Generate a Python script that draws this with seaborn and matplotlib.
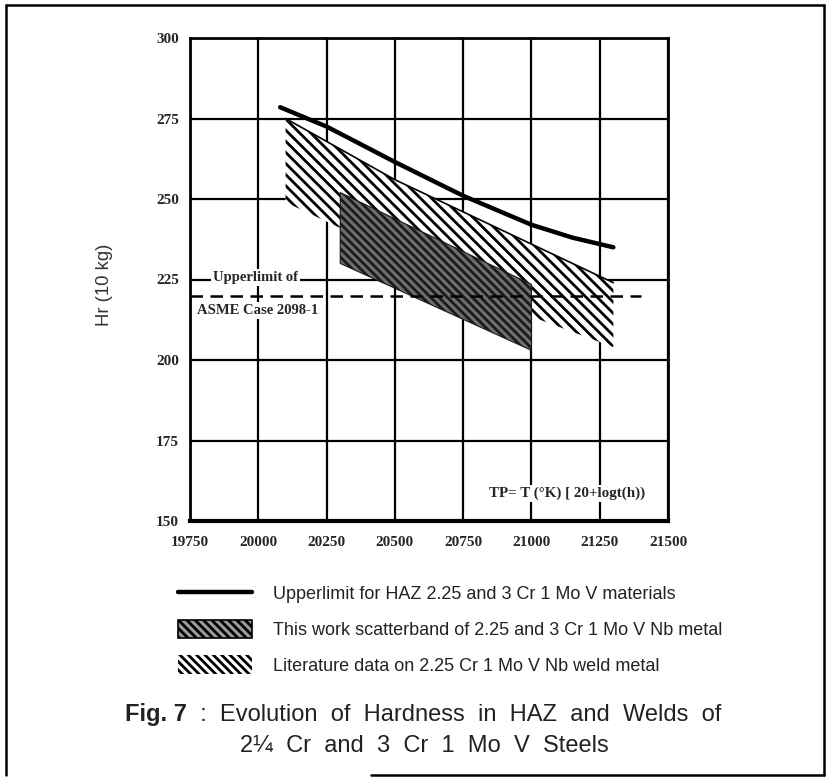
import matplotlib.pyplot as plt
import matplotlib.patches as mpatches
from matplotlib.lines import Line2D
import pandas as pd
import seaborn as sns

# -----------------------------
# data
# -----------------------------
# upper limit curve for HAZ 2.25 and 3 Cr 1 Mo V
haz_tp = [20080, 20250, 20500, 20750, 21000, 21150, 21300]
haz_hr = [278.5, 272.5, 261.5, 251.0, 242.0, 238.0, 235.0]

# literature data scatterband (outline)
lit_tp = [20100, 20500, 21000, 21300, 21300, 21000, 20300, 20100]
lit_hr = [275.0, 256.0, 236.0, 224.0, 204.0, 213.5, 241.0, 249.0]

# this work scatterband (outline)
work_tp = [20300, 21000, 21000, 20300]
work_hr = [252.0, 223.5, 203.0, 230.0]

# ASME Case 2098-1 upper limit
asme_tp = [19750, 21400]
asme_hr = [220.0, 220.0]

x_ticks = [19750, 20000, 20250, 20500, 20750, 21000, 21250, 21500]
y_ticks = [150, 175, 200, 225, 250, 275, 300]

legend_labels = [
    "Upperlimit for HAZ 2.25 and 3 Cr 1 Mo V materials",
    "This work scatterband of 2.25 and 3 Cr 1 Mo V Nb metal",
    "Literature data on 2.25 Cr 1 Mo V Nb weld metal",
]

# -----------------------------
# style
# -----------------------------
sns.set_theme(style="white")
plt.rcParams["font.family"] = ["Liberation Sans", "DejaVu Sans"]
plt.rcParams["hatch.linewidth"] = 2.0

fig = plt.figure(figsize=(8.31, 7.79), dpi=100)
ax = fig.add_axes([190 / 831, 1 - 521 / 779, 478 / 831, 483 / 779])

# outer frame of the scanned figure
W, H = 831, 779
for (x0, y0), (x1, y1) in [((6, 5), (824, 5)), ((6, 5), (6, 775)),
                           ((824, 5), (824, 775)), ((371, 775), (824, 775))]:
    fig.add_artist(Line2D([x0 / W, x1 / W], [1 - y0 / H, 1 - y1 / H],
                          transform=fig.transFigure, color="black", lw=1.8))

# -----------------------------
# plot
# -----------------------------
ax.fill(lit_tp, lit_hr, facecolor="white", edgecolor="black", hatch="\\\\\\",
        lw=0, zorder=2)
ax.plot(lit_tp[:4], lit_hr[:4], color="black", lw=1.2, zorder=2.5)
ax.fill(work_tp, work_hr, facecolor="#6e6e6e", edgecolor="#1a1a1a", hatch="\\\\\\\\",
        lw=0.8, zorder=3)

haz = pd.DataFrame({"tp": haz_tp, "hr": haz_hr})
sns.lineplot(data=haz, x="tp", y="hr", color="black", lw=3.2, ax=ax, zorder=4)
sns.lineplot(x=asme_tp, y=asme_hr, color="black", lw=1.8, ax=ax, zorder=5,
             linestyle=(0, (5, 3)))

serif_bold = dict(family=["Liberation Serif", "DejaVu Serif"], fontweight="bold")
ax.text(19835, 225.6, "Upperlimit of", fontsize=10.5, va="center", ha="left",
        bbox=dict(facecolor="white", edgecolor="none", pad=1.5), zorder=6, **serif_bold)
ax.text(19775, 215.5, "ASME Case 2098-1", fontsize=10.5, va="center", ha="left",
        bbox=dict(facecolor="white", edgecolor="none", pad=1.5), zorder=6, **serif_bold)
ax.text(20845, 158.5, "TP= T (°K) [ 20+logt(h))", fontsize=10.8, va="center", ha="left",
        bbox=dict(facecolor="white", edgecolor="none", pad=1.5), zorder=6, **serif_bold)

ax.set_xlim(19750, 21500)
ax.set_ylim(150, 300)
ax.set_xticks(x_ticks)
ax.set_yticks(y_ticks)
ax.set_xticklabels([str(v) for v in x_ticks], **serif_bold, fontsize=11)
ax.set_yticklabels([str(v) for v in y_ticks], **serif_bold, fontsize=11)
ax.tick_params(axis="y", length=0, pad=8)
ax.tick_params(axis="x", length=0, pad=11)
ax.grid(True, color="black", lw=1.6, zorder=1)
ax.set_axisbelow(True)
for side, sp in ax.spines.items():
    sp.set_color("black")
    sp.set_linewidth(2.0)
ax.spines["bottom"].set_linewidth(3)

ax.set_xlabel("")
ax.set_ylabel("Hr (10 kg)", fontsize=13.3, color="#333333")
ax.yaxis.set_label_coords(-0.162, 0.49)

# -----------------------------
# legend
# -----------------------------
handles = [
    Line2D([], [], color="black", lw=3.2),
    mpatches.Patch(facecolor="#9a9a9a", edgecolor="black", hatch="\\\\\\\\", lw=1.2),
    mpatches.Patch(facecolor="white", edgecolor="black", hatch="\\\\\\\\", lw=0),
]
leg = fig.legend(handles, legend_labels, loc="upper left",
                 bbox_to_anchor=(178 / 831, 1 - 584 / 779), frameon=False,
                 fontsize=13, handlelength=4.1, handleheight=1.2,
                 handletextpad=1.15, labelspacing=0.9, borderpad=0,
                 borderaxespad=0)
for t in leg.get_texts():
    t.set_color("#222222")

# -----------------------------
# caption
# -----------------------------
cap = dict(fontsize=17, color="#222222")
fig_lbl = fig.text(125 / 831, 1 - 715 / 779, "Fig. 7", fontweight="bold",
                   ha="left", va="center", **cap)
ax.annotate("  :  Evolution  of  Hardness  in  HAZ  and  Welds  of",
            xy=(1, 0.5), xycoords=fig_lbl, ha="left", va="center",
            annotation_clip=False, **cap)
fig.text(424 / 831, 1 - 746 / 779, "2¼  Cr  and  3  Cr  1  Mo  V  Steels",
         ha="center", va="center", **cap)

fig.savefig("out.png", dpi=100)
